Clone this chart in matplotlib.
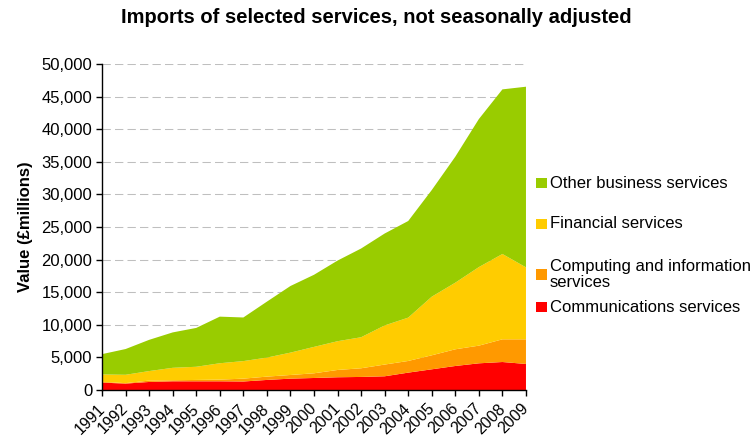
import numpy as np
import matplotlib.pyplot as plt
from matplotlib.patches import Rectangle
from matplotlib.ticker import FuncFormatter
from matplotlib.transforms import ScaledTranslation, blended_transform_factory

plt.rcParams['font.family'] = ['Liberation Sans', 'DejaVu Sans']

years = list(range(1991, 2010))

# values in £ millions
communications = [1130, 980, 1230, 1330, 1330, 1330, 1300, 1540, 1740, 1840,
                  1950, 2000, 2100, 2660, 3170, 3680, 4090, 4290, 3990]
computing = [120, 70, 210, 160, 210, 260, 440, 510, 560, 720,
             1120, 1330, 1800, 1790, 2150, 2560, 2710, 3480, 3780]
financial = [1130, 1280, 1460, 1910, 2020, 2510, 2690, 2920, 3430, 4050,
             4410, 4760, 6000, 6650, 8990, 10220, 12050, 13090, 11040]
other_business = [3120, 3950, 4790, 5430, 5960, 7150, 6690, 8580, 10220, 11060,
                  12370, 13610, 14100, 14820, 16360, 19330, 22710, 25250, 27710]

labels = ["Communications services", "Computing and information\nservices",
          "Financial services", "Other business services"]
colors = ["#FF0000", "#FF9900", "#FFCC00", "#99CC00"]

fig = plt.figure(figsize=(7.53, 4.37), dpi=100)
ax = fig.add_axes([0.1355, 0.1076, 0.563, 0.7459])

ax.stackplot(years, communications, computing, financial, other_business,
             colors=colors, linewidth=0, zorder=2)

ax.set_xlim(1991, 2009)
ax.set_ylim(0, 50000)
ax.set_yticks(np.arange(0, 50001, 5000))
ax.yaxis.set_major_formatter(FuncFormatter(lambda v, p: f"{int(v):,}"))
ax.set_xticks(years)
ax.set_xticklabels([])

# slanted year labels, placed a little left of and below each tick
trans = blended_transform_factory(ax.transData, ax.transAxes) + \
    ScaledTranslation(-0.05, -0.11, fig.dpi_scale_trans)
for y in years:
    ax.text(y, 0, str(y), transform=trans, rotation=45, ha="right", va="top",
            rotation_mode="anchor", fontsize=11.5, clip_on=False)

for v in range(5000, 50001, 5000):
    ax.axhline(v, color="#BFBFBF", lw=0.75, dashes=(8, 4), zorder=1)

for s in ["top", "right"]:
    ax.spines[s].set_visible(False)
for s in ["left", "bottom"]:
    ax.spines[s].set_linewidth(1.0)
    ax.spines[s].set_color("black")
    ax.spines[s].set_zorder(3)

ax.tick_params(axis="both", direction="out", length=4, width=1,
               labelsize=12, color="black")
ax.tick_params(axis="y", pad=3)

ax.set_ylabel("Value (£millions)", fontsize=12, fontweight="bold", labelpad=6)
fig.text(0.5, 0.960, "Imports of selected services, not seasonally adjusted",
         ha="center", va="center", fontsize=14.5, fontweight="bold")

# legend drawn by hand, top entry first
W, H = 753, 437
legend_rows = [(3, 183), (2, 224), (1, 274.5), (0, 307)]
for idx, yc in legend_rows:
    fig.patches.append(Rectangle((536 / W, 1 - (yc + 5.3) / H), 10.5 / W, 10.5 / H,
                                 transform=fig.transFigure, facecolor=colors[idx],
                                 edgecolor="none"))
    fig.text(550 / W, 1 - yc / H, labels[idx], ha="left", va="center",
             fontsize=12, linespacing=1.05)

fig.savefig("out.png", dpi=100)
